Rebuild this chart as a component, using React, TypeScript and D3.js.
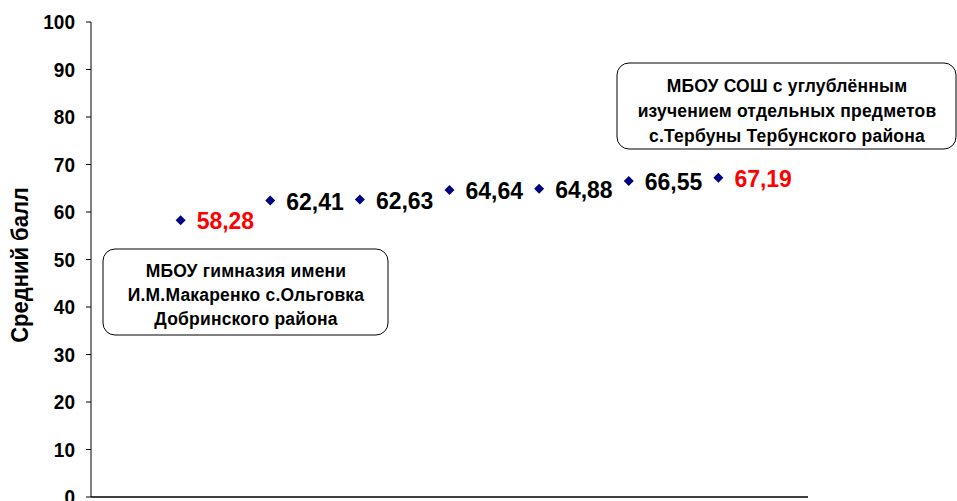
import React from "react";
import * as d3 from "d3";

const positions = [1, 2, 3, 4, 5, 6, 7];
const scores = [58.28, 62.41, 62.63, 64.64, 64.88, 66.55, 67.19];
const labels = ["58,28", "62,41", "62,63", "64,64", "64,88", "66,55", "67,19"];
const highlight = [true, false, false, false, false, false, true];
const yTicks = [0, 10, 20, 30, 40, 50, 60, 70, 80, 90, 100];
const yTitle = "Средний балл";
const leftNote = ["МБОУ гимназия имени", "И.М.Макаренко с.Ольговка", "Добринского района"];
const rightNote = ["МБОУ СОШ с углублённым", "изучением отдельных предметов", "с.Тербуны Тербунского района"];

const W = 957;
const H = 501;
const FONT = "'Liberation Sans', Arial, sans-serif";

function T(props: any) {
  const { x, y, sy = 1.08, children, ...rest } = props;
  return (
    <text transform={`translate(${x}, ${y}) scale(1, ${sy})`} fontWeight="bold" {...rest}>
      {children}
    </text>
  );
}

export default function App() {
  const x = d3.scaleLinear().domain([0, 8]).range([91, 808]);
  const y = d3.scaleLinear().domain([0, 100]).range([497, 22]);
  const diamond = "M0,-5L5,0L0,5L-5,0Z";

  return (
    <svg width={W} height={H} style={{ position: "absolute", left: 0, top: 0, background: "#fff" }} fontFamily={FONT}>
      {/* axes */}
      <line x1={x(0)} x2={x(0)} y1={y(100)} y2={y(0)} stroke="#000" strokeWidth={1} />
      <line x1={x(0)} x2={x(8)} y1={y(0)} y2={y(0)} stroke="#000" strokeWidth={1.3} />
      {yTicks.map((t) => (
        <g key={t}>
          <line x1={x(0) - 5} x2={x(0)} y1={y(t)} y2={y(t)} stroke="#000" />
          <T x={75} y={y(t) + 7} textAnchor="end" fontSize={19} fill="#000">
            {t}
          </T>
        </g>
      ))}
      <text
        transform={`translate(28, 265) rotate(-90) scale(1, 1.05)`}
        textAnchor="middle"
        fontSize={22}
        fontWeight="bold"
        fill="#000"
      >
        {yTitle}
      </text>

      {/* annotation boxes */}
      <rect x={103} y={249} width={285} height={86} rx={12} fill="#fff" stroke="#000" strokeWidth={1} />
      {leftNote.map((s, i) => (
        <T key={i} x={246} y={277 + i * 24} textAnchor="middle" fontSize={17.5} letterSpacing={0.2} fill="#000">
          {s}
        </T>
      ))}
      <rect x={617} y={63} width={339} height={86} rx={12} fill="#fff" stroke="#000" strokeWidth={1} />
      {rightNote.map((s, i) => (
        <T key={i} x={787} y={92 + i * 25} textAnchor="middle" fontSize={17.5} letterSpacing={0.2} fill="#000">
          {s}
        </T>
      ))}

      {/* points and labels */}
      {positions.map((p, i) => (
        <g key={i}>
          <path d={diamond} transform={`translate(${x(p)}, ${y(scores[i])})`} fill="#000080" />
          <T
            x={x(p) + 16}
            y={y(scores[i]) + 9}
            sy={1.07}
            fontSize={23}
            fill={highlight[i] ? "#ff0000" : "#000"}
          >
            {labels[i]}
          </T>
        </g>
      ))}
    </svg>
  );
}
